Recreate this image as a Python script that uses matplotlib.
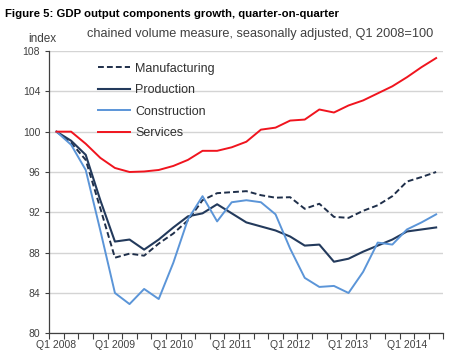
import numpy as np
import matplotlib
matplotlib.use('Agg')
import matplotlib.pyplot as plt

# quarters Q1 2008 .. Q3 2014
quarters = [f"Q{q} {y}" for y in range(2008, 2015) for q in range(1, 5)][:27]
tick_labels = ['Q1 2008', 'Q1 2009', 'Q1 2010', 'Q1 2011', 'Q1 2012', 'Q1 2013', 'Q1 2014']

manufacturing = [100, 98.9, 97.2, 92.4, 87.5, 87.9, 87.7, 88.9, 89.9, 91.2, 93.2, 93.9, 94.0, 94.1,
                 93.7, 93.45, 93.5, 92.35, 92.85, 91.55, 91.45, 92.15, 92.7, 93.6, 95.05, 95.5, 96.0]
production = [100, 99.1, 97.7, 93.2, 89.1, 89.3, 88.3, 89.3, 90.5, 91.6, 91.9, 92.8, 91.9, 91.0,
              90.6, 90.2, 89.6, 88.7, 88.8, 87.1, 87.4, 88.1, 88.7, 89.3, 90.1, 90.3, 90.5]
construction = [100, 98.7, 96.2, 90.2, 84.0, 82.9, 84.4, 83.4, 87.0, 91.3, 93.6, 91.1, 93.0, 93.2,
                93.0, 91.8, 88.4, 85.5, 84.6, 84.7, 84.0, 86.1, 89.0, 88.8, 90.3, 91.0, 91.8]
services = [100, 100, 98.8, 97.4, 96.4, 96.0, 96.05, 96.2, 96.6, 97.2, 98.1, 98.1, 98.45, 99.0,
            100.2, 100.4, 101.1, 101.2, 102.2, 101.9, 102.6, 103.1, 103.8, 104.5, 105.4, 106.4, 107.3]

plt.rcParams['font.family'] = ['Liberation Sans', 'DejaVu Sans']

fig = plt.figure(figsize=(4.6, 3.61), dpi=100)
ax = fig.add_axes([0.107, 0.0767, 0.857, 0.782])

x = np.arange(len(quarters))
ax.plot(x, manufacturing, color='#1f2f4a', lw=1.4, dashes=(3, 1.6), label='Manufacturing')
ax.plot(x, production, color='#233a5c', lw=1.5, label='Production')
ax.plot(x, construction, color='#5b95d8', lw=1.4, label='Construction')
ax.plot(x, services, color='#f0141e', lw=1.4, label='Services')

ax.set_xlim(-0.5, len(quarters) - 0.5)
ax.set_ylim(80, 108)
ax.set_yticks(np.arange(80, 109, 4))
ax.yaxis.grid(True, color='#d4d4d4', lw=1.0)
ax.set_axisbelow(True)

ax.set_xticks(np.arange(-0.5, len(quarters), 1))
ax.set_xticklabels([])
ax.set_xticks(np.arange(0, len(quarters), 4), minor=True)
ax.set_xticklabels(tick_labels, minor=True)
ax.tick_params(axis='x', which='major', length=4, width=0.8, color='#404040', direction='out')
ax.tick_params(axis='x', which='minor', length=0, pad=5, labelsize=7.5, labelcolor='#404040')
ax.tick_params(axis='y', length=3, width=0.8, color='#404040', labelsize=7.5, labelcolor='#404040')

for s in ['top', 'right']:
    ax.spines[s].set_visible(False)
for s in ['left', 'bottom']:
    ax.spines[s].set_color('#404040')
    ax.spines[s].set_linewidth(0.9)

leg = ax.legend(loc='upper left', bbox_to_anchor=(0.095, 0.998), frameon=False, fontsize=9,
                handlelength=2.6, handletextpad=0.4, labelspacing=0.76)
for t in leg.get_texts():
    t.set_color('#303030')

fig.text(0.011, 0.975, 'Figure 5: GDP output components growth, quarter-on-quarter',
         fontsize=8.2, fontweight='bold', va='top', ha='left')
fig.text(0.092, 0.893, 'index', fontsize=8.5, color='#404040', ha='center', va='center')
fig.text(0.19, 0.906, 'chained volume measure, seasonally adjusted, Q1 2008=100',
         fontsize=9.2, color='#404040', ha='left', va='center')

fig.savefig('out.png', dpi=100)
